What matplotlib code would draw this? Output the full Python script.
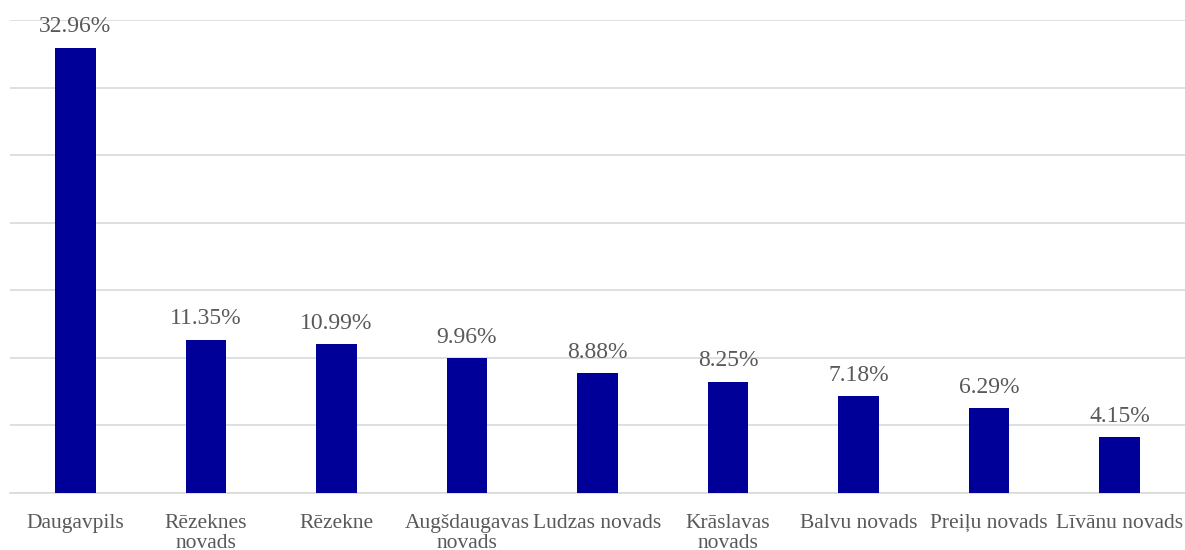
import matplotlib.pyplot as plt
import numpy as np

plt.rcParams['font.family'] = ['Liberation Serif', 'DejaVu Serif']

regions = ['Daugavpils', 'Rēzeknes\nnovads', 'Rēzekne', 'Augšdaugavas\nnovads',
           'Ludzas novads', 'Krāslavas\nnovads', 'Balvu novads', 'Preiļu novads',
           'Līvānu novads']
shares = [32.96, 11.35, 10.99, 9.96, 8.88, 8.25, 7.18, 6.29, 4.15]

text_col = '#595959'

fig = plt.figure(figsize=(11.85, 5.5), dpi=100)
ax = fig.add_axes([10 / 1185, 1 - 493 / 550, 1175 / 1185, 473 / 550])

x = np.arange(len(regions))
ax.bar(x, shares, width=0.31, color='#000099', zorder=3)

# value labels above bars
for xi, v in zip(x, shares):
    ax.annotate(f'{v:.2f}%', xy=(xi, v), xytext=(0, 11),
                textcoords='offset points', ha='center', va='baseline',
                fontsize=17, color=text_col)

# category labels, line by line so baselines line up
for xi, lab in zip(x, regions):
    for i, line in enumerate(lab.split('\n')):
        ax.annotate(line, xy=(xi, 0), xycoords=('data', 'axes fraction'),
                    xytext=(0, -25.2 - i * 14.4), textcoords='offset points',
                    ha='center', va='baseline', fontsize=15.5, color=text_col)

ax.set_xlim(-0.5, len(regions) - 0.5)
ax.set_ylim(0, 35)
ax.set_yticks(np.arange(0, 36, 5))
ax.set_yticklabels([])
ax.yaxis.grid(True, color='#d9d9d9', linewidth=1.2)
ax.tick_params(axis='both', length=0)
ax.set_xticks([])
for s in ['top', 'right', 'left']:
    ax.spines[s].set_visible(False)
ax.spines['bottom'].set_color('#d9d9d9')
ax.spines['bottom'].set_linewidth(1.2)

fig.savefig('out.png', dpi=100)
